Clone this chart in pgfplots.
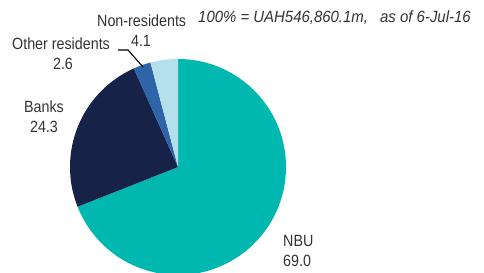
\documentclass[border=0pt]{standalone}
\usepackage{pgfplots}
\usepackage{pgfplotstable}
\pgfplotsset{compat=1.18}
\usepackage{fontspec}
\setmainfont{Liberation Sans}[FakeStretch=0.88]
\newfontfamily\titlefont{Liberation Sans}[FakeStretch=0.92]
\definecolor{cNBU}{HTML}{00B8B0}
\definecolor{cBanks}{HTML}{172249}
\definecolor{cOther}{HTML}{2E64A8}
\definecolor{cNon}{HTML}{B4E0EC}
\definecolor{txt}{HTML}{333333}
\pgfplotstableread{
name value col
NBU 69.0 cNBU
Banks 24.3 cBanks
Other 2.6 cOther
Non 4.1 cNon
}\piedata
\begin{document}
\begin{tikzpicture}
\begin{axis}[
  width=484bp, height=273bp, scale only axis,
  xmin=0, xmax=484, ymin=0, ymax=273,
  hide axis, clip=true,
]
\addplot[draw=none] coordinates {(0,0) (484,273)};
\pgfplotsextra{
  \xdef\cum{90}
  \pgfplotsforeachungrouped \i in {0,1,2,3}{
    \pgfplotstablegetelem{\i}{value}\of\piedata
    \pgfmathsetmacro\endang{\cum-3.6*\pgfplotsretval}
    \pgfplotstablegetelem{\i}{col}\of\piedata
    \edef\slicecol{\pgfplotsretval}
    \fill[color=\slicecol] (axis cs:178,106) -- ++(\cum:108bp) arc[start angle=\cum, end angle=\endang, radius=108bp] -- cycle;
    \xdef\cum{\endang}
  }
}
\end{axis}
\begin{scope}[every node/.style={inner sep=0pt, text=txt, font=\fontsize{16.3}{17}\selectfont}]
\node[anchor=base west, font=\fontsize{16.3}{17}\selectfont\titlefont\itshape] at (198bp,250bp) {100\% = UAH546,860.1m,\hspace{0.75em}as of 6-Jul-16};
\node[anchor=base west] at (97bp,246bp) {Non-residents};
\node[anchor=base] at (141bp,226bp) {4.1};
\node[anchor=base west] at (12bp,223bp) {Other residents};
\node[anchor=base] at (63bp,203bp) {2.6};
\node[anchor=base] at (44bp,160bp) {Banks};
\node[anchor=base] at (44bp,140bp) {24.3};
\node[anchor=base west] at (283bp,27bp) {NBU};
\node[anchor=base west] at (283bp,7bp) {69.0};
\draw[black, line width=1.1bp] (118bp,223bp) -- (128bp,223bp) -- (143bp,206bp);
\end{scope}
\end{tikzpicture}
\end{document}
